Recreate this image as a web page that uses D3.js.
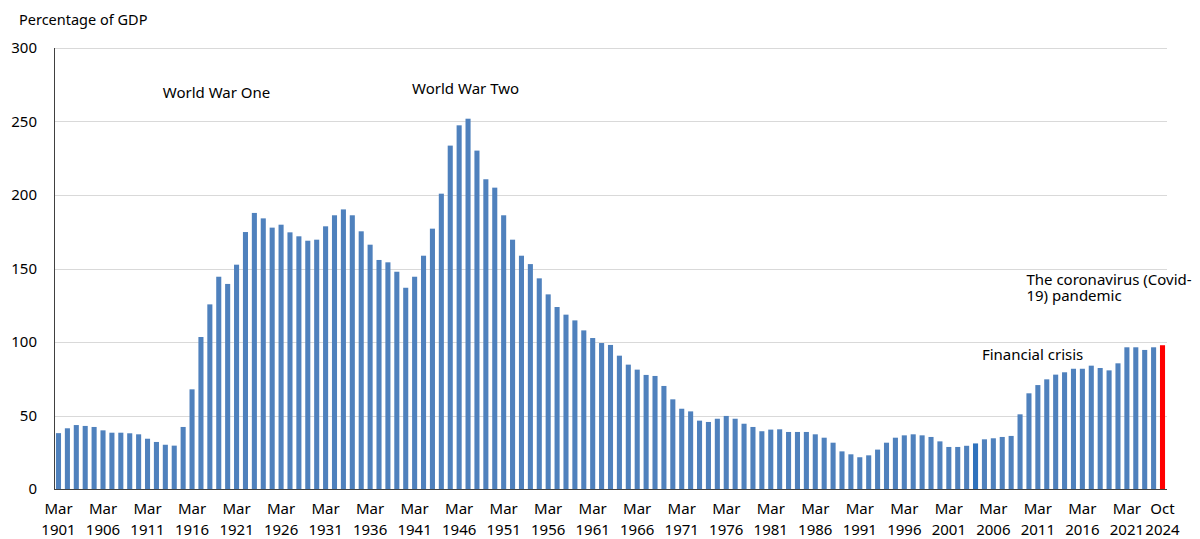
<!DOCTYPE html>
<html>
<head>
<meta charset="utf-8">
<script src="https://cdn.jsdelivr.net/npm/d3@7"></script>
<style>
  body { margin: 0; background: #fff; }
  text { font-family: "Noto Sans", "Open Sans", sans-serif; fill: #000; }
</style>
</head>
<body>
<div id="chart"></div>
<script>
const width = 1200, height = 539;
const margin = {left: 54, top: 48, right: 33, bottom: 50};

// financial years ending March 1901 .. March 2024, then the Oct 2024 estimate
const years = d3.range(1901, 2025);
const categories = years.map(y => "Mar " + y).concat(["Oct 2024"]);

const debt = [
  38, 41.3, 43.5, 42.9, 42.2, 39.9, 38.3, 38.3, 37.9, 37.2,
  34.2, 32, 30.1, 29.5, 42.2, 67.8, 103.4, 125.6, 144.4, 139.5,
  152.6, 174.8, 187.8, 184.1, 177.8, 179.8, 174.6, 171.9, 168.9, 169.6,
  178.7, 186.2, 190.2, 186.2, 175.3, 166.2, 155.8, 154.2, 147.8, 136.9,
  144.4, 158.7, 177.1, 200.9, 233.6, 247.4, 251.9, 230.2, 210.7, 205,
  186.2, 169.6, 158.7, 153, 143.3, 132.4, 123.8, 118.6, 114.7, 107.9,
  102.7, 99.3, 98, 90.7, 84.6, 81.2, 77.6, 76.9, 70.1, 61,
  54.6, 52.8, 46.5, 45.6, 47.8, 49.7, 47.8, 44.4, 42.2, 39.3,
  40.4, 40.6, 38.8, 38.8, 38.8, 37.2, 34.9, 31.5, 25.6, 23.6,
  21.6, 22.9, 26.8, 31.5, 34.9, 36.5, 37.2, 36.5, 35.4, 32.4,
  28.6, 28.6, 29.4, 31, 33.8, 34.5, 35.4, 36.1, 50.8, 65.1,
  70.7, 74.6, 77.8, 79.4, 81.8, 81.8, 83.9, 82.3, 80.7, 85.5,
  96.4, 96.4, 94.6, 96.4,
  97.8
];

const yTicks = [0, 50, 100, 150, 200, 250, 300];
const tickLabels = [
  "Mar 1901", "Mar 1906", "Mar 1911", "Mar 1916", "Mar 1921", "Mar 1926",
  "Mar 1931", "Mar 1936", "Mar 1941", "Mar 1946", "Mar 1951", "Mar 1956",
  "Mar 1961", "Mar 1966", "Mar 1971", "Mar 1976", "Mar 1981", "Mar 1986",
  "Mar 1991", "Mar 1996", "Mar 2001", "Mar 2006", "Mar 2011", "Mar 2016",
  "Mar 2021", "Oct 2024"
];

const annotations = [
  {text: ["World War One"], cat: "Mar 1913", value: 266},
  {text: ["World War Two"], cat: "Mar 1941", value: 269},
  {text: ["Financial crisis"], cat: "Mar 2005", value: 88},
  {text: ["The coronavirus (Covid-", "19) pandemic"], cat: "Mar 2010", value: 138.5}
];

const data = categories.map((c, i) => ({cat: c, value: debt[i]}));

const svg = d3.select("#chart").append("svg")
    .attr("width", width)
    .attr("height", height);

const x = d3.scaleBand()
    .domain(categories)
    .range([margin.left, width - margin.right])
    .paddingInner(0.43)
    .paddingOuter(0.22);

const y = d3.scaleLinear()
    .domain([0, 300])
    .range([height - margin.bottom, margin.top]);

// gridlines
svg.append("g")
    .selectAll("line")
    .data(yTicks.filter(d => d > 0))
    .enter().append("line")
    .attr("x1", margin.left)
    .attr("x2", width - margin.right)
    .attr("y1", d => Math.round(y(d)) + 0.5)
    .attr("y2", d => Math.round(y(d)) + 0.5)
    .style("stroke", "#d9d9d9")
    .style("stroke-width", 1);

// bars
svg.append("g")
    .selectAll("rect")
    .data(data)
    .enter().append("rect")
    .attr("x", d => x(d.cat))
    .attr("y", d => y(d.value))
    .attr("width", x.bandwidth())
    .attr("height", d => y(0) - y(d.value))
    .style("fill", d => d.cat === "Oct 2024" ? "#ff0000" : (d.cat === "Mar 2004" ? "#2f72bd" : "#4f81bd"));

// axes lines
svg.append("line")
    .attr("x1", margin.left + 0.5).attr("x2", margin.left + 0.5)
    .attr("y1", margin.top).attr("y2", y(0))
    .style("stroke", "#404040");
svg.append("line")
    .attr("x1", margin.left).attr("x2", width - margin.right)
    .attr("y1", Math.round(y(0)) + 0.5).attr("y2", Math.round(y(0)) + 0.5)
    .style("stroke", "#404040");

// y tick labels
svg.append("g")
    .selectAll("text")
    .data(yTicks)
    .enter().append("text")
    .attr("x", 37)
    .attr("y", d => y(d) + 5)
    .attr("text-anchor", "end")
    .style("font-size", "15px")
    .text(d => d);

svg.append("text")
    .attr("x", 19)
    .attr("y", 25)
    .style("font-size", "14.5px")
    .text("Percentage of GDP");

// x tick labels, two lines
const xl = svg.append("g")
    .selectAll("text")
    .data(tickLabels)
    .enter().append("text")
    .attr("text-anchor", "middle")
    .style("font-size", "15px");
xl.append("tspan")
    .attr("x", d => x(d) + x.bandwidth() / 2)
    .attr("y", 514)
    .text(d => d.split(" ")[0]);
xl.append("tspan")
    .attr("x", d => x(d) + x.bandwidth() / 2)
    .attr("y", 535)
    .text(d => d.split(" ")[1]);

// annotations
const an = svg.append("g")
    .selectAll("text")
    .data(annotations)
    .enter().append("text")
    .style("font-size", "15px");
an.selectAll("tspan")
    .data(d => d.text.map((t, i) => ({t, i, d})))
    .enter().append("tspan")
    .attr("x", d => x(d.d.cat))
    .attr("y", d => y(d.d.value) + d.i * 15.5)
    .text(d => d.t);
</script>
</body>
</html>
